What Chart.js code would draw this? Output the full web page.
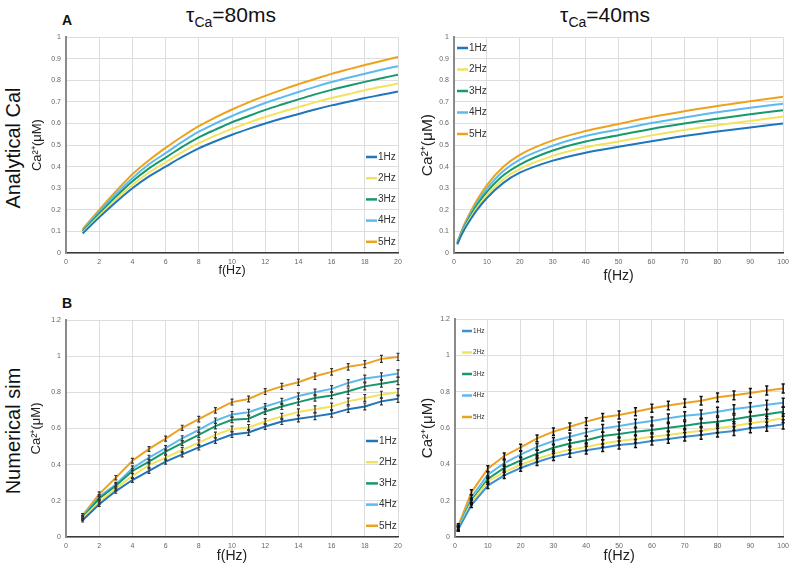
<!DOCTYPE html>
<html>
<head>
<meta charset="utf-8">
<script src="https://cdn.jsdelivr.net/npm/chart.js@4.4.1/dist/chart.umd.min.js"></script>
<style>
  body { margin: 0; width: 794px; height: 568px; background: #fff; position: relative; overflow: hidden;
         font-family: "Liberation Sans", Arial, sans-serif; color: #111; }
  .box { position: absolute; }
  .box canvas { display: block; }
  .lbl { position: absolute; white-space: nowrap; }
  .title { font-size: 21px; line-height: 21px; width: 200px; text-align: center; }
  .title sub { font-size: 14px; vertical-align: -5px; }
  .panel { font-size: 14px; line-height: 14px; font-weight: bold; }
  .row { font-size: 20px; line-height: 24px; width: 200px; height: 24px; text-align: center; transform: rotate(-90deg); }
</style>
</head>
<body>

<div class="lbl panel" style="left:62px;top:13px">A</div>
<div class="lbl panel" style="left:62px;top:296px">B</div>
<div class="lbl title" style="left:131px;top:4px">τ<sub>Ca</sub>=80ms</div>
<div class="lbl title" style="left:505px;top:4px">τ<sub>Ca</sub>=40ms</div>
<div class="lbl row" style="left:-87px;top:136px">Analytical Cal</div>
<div class="lbl row" style="left:-87px;top:419px">Numerical sim</div>

<div class="box" style="left:0;top:28px"><canvas id="ana80" width="410" height="262"></canvas></div>
<div class="box" style="left:400px;top:28px"><canvas id="ana40" width="394" height="262"></canvas></div>
<div class="box" style="left:0;top:300px"><canvas id="num80" width="410" height="268"></canvas></div>
<div class="box" style="left:400px;top:300px"><canvas id="num40" width="394" height="268"></canvas></div>

<script>
// ==============================
// DATA
// ==============================

const seriesLabels = ['1Hz', '2Hz', '3Hz', '4Hz', '5Hz'];
const colorsA = ['#1f76bd', '#f3e35c', '#17996c', '#5cbaec', '#eda21e'];
const colorsB = ['#3f8fd6', '#f3e35c', '#17996c', '#5cbaec', '#eda21e'];

// ticks
const xTicks20 = [0, 2, 4, 6, 8, 10, 12, 14, 16, 18, 20];
const xTicks100 = [0, 10, 20, 30, 40, 50, 60, 70, 80, 90, 100];
const yTicksAna = [0, 0.1, 0.2, 0.3, 0.4, 0.5, 0.6, 0.7, 0.8, 0.9, 1];
const yTicksNum = [0, 0.2, 0.4, 0.6, 0.8, 1, 1.2];

// analytical, tau = 80ms
const freqAna80 = [1, 2, 3, 4, 5, 6, 7, 8, 9, 10, 11, 12, 13, 14, 15, 16, 17, 18, 19, 20];
const ana80_1Hz = [0.09, 0.165, 0.235, 0.30, 0.355, 0.40, 0.445, 0.485, 0.518, 0.548, 0.575, 0.600, 0.623, 0.644, 0.665, 0.684, 0.701, 0.718, 0.733, 0.748];
const ana80_2Hz = [0.094, 0.173, 0.247, 0.315, 0.373, 0.42, 0.467, 0.509, 0.544, 0.575, 0.604, 0.63, 0.654, 0.676, 0.698, 0.718, 0.736, 0.754, 0.77, 0.785];
const ana80_3Hz = [0.099, 0.182, 0.26, 0.332, 0.392, 0.442, 0.492, 0.536, 0.572, 0.606, 0.635, 0.663, 0.688, 0.712, 0.735, 0.756, 0.775, 0.793, 0.81, 0.826];
const ana80_4Hz = [0.104, 0.191, 0.272, 0.347, 0.411, 0.463, 0.515, 0.562, 0.6, 0.635, 0.666, 0.695, 0.721, 0.746, 0.77, 0.792, 0.812, 0.831, 0.849, 0.866];
const ana80_5Hz = [0.11, 0.20, 0.285, 0.365, 0.43, 0.487, 0.54, 0.588, 0.628, 0.665, 0.698, 0.728, 0.756, 0.782, 0.806, 0.83, 0.851, 0.871, 0.89, 0.908];

// analytical, tau = 40ms
const freqAna40 = [1, 2, 3, 5, 7, 10, 15, 20, 30, 40, 50, 60, 70, 80, 90, 100];
const ana40_1Hz = [0.04, 0.075, 0.105, 0.155, 0.20, 0.255, 0.325, 0.372, 0.428, 0.465, 0.492, 0.518, 0.542, 0.563, 0.582, 0.60];
const ana40_2Hz = [0.042, 0.078, 0.11, 0.163, 0.21, 0.268, 0.342, 0.39, 0.45, 0.49, 0.517, 0.545, 0.57, 0.592, 0.612, 0.632];
const ana40_3Hz = [0.044, 0.082, 0.116, 0.172, 0.222, 0.283, 0.36, 0.41, 0.475, 0.517, 0.546, 0.575, 0.6, 0.622, 0.643, 0.662];
const ana40_4Hz = [0.047, 0.086, 0.122, 0.181, 0.233, 0.298, 0.38, 0.433, 0.497, 0.542, 0.572, 0.602, 0.628, 0.652, 0.673, 0.692];
const ana40_5Hz = [0.05, 0.09, 0.128, 0.19, 0.245, 0.315, 0.40, 0.455, 0.522, 0.565, 0.598, 0.63, 0.657, 0.681, 0.703, 0.724];

// numerical, tau = 80ms
const freqNum80 = [1, 2, 3, 4, 5, 6, 7, 8, 9, 10, 11, 12, 13, 14, 15, 16, 17, 18, 19, 20];
const num80_1Hz = [0.093, 0.181, 0.254, 0.315, 0.365, 0.417, 0.457, 0.496, 0.533, 0.567, 0.578, 0.611, 0.639, 0.654, 0.667, 0.681, 0.707, 0.722, 0.75, 0.765];
const num80_2Hz = [0.102, 0.194, 0.269, 0.337, 0.398, 0.439, 0.481, 0.522, 0.565, 0.597, 0.606, 0.639, 0.667, 0.691, 0.707, 0.722, 0.75, 0.769, 0.787, 0.80];
const num80_3Hz = [0.107, 0.213, 0.283, 0.365, 0.417, 0.472, 0.519, 0.565, 0.613, 0.648, 0.654, 0.694, 0.722, 0.746, 0.769, 0.783, 0.806, 0.833, 0.848, 0.863];
const num80_4Hz = [0.111, 0.222, 0.29, 0.38, 0.439, 0.491, 0.546, 0.593, 0.643, 0.678, 0.69, 0.722, 0.75, 0.78, 0.80, 0.819, 0.852, 0.876, 0.889, 0.904];
const num80_5Hz = [0.12, 0.237, 0.328, 0.422, 0.487, 0.544, 0.604, 0.652, 0.70, 0.746, 0.763, 0.804, 0.833, 0.856, 0.889, 0.913, 0.941, 0.956, 0.985, 0.996];
const errNum80 = [0.01, 0.012, 0.012, 0.013, 0.013, 0.014, 0.014, 0.015, 0.015, 0.016, 0.016, 0.016, 0.017, 0.017, 0.018, 0.018, 0.018, 0.019, 0.019, 0.02];

// numerical, tau = 40ms
const freqNum40 = [1, 5, 10, 15, 20, 25, 30, 35, 40, 45, 50, 55, 60, 65, 70, 75, 80, 85, 90, 95, 100];
const num40_1Hz = [0.043, 0.176, 0.283, 0.339, 0.38, 0.413, 0.441, 0.459, 0.478, 0.491, 0.506, 0.515, 0.528, 0.539, 0.552, 0.561, 0.574, 0.583, 0.598, 0.607, 0.62];
const num40_2Hz = [0.046, 0.191, 0.306, 0.357, 0.398, 0.431, 0.459, 0.481, 0.496, 0.515, 0.528, 0.539, 0.552, 0.561, 0.574, 0.585, 0.598, 0.611, 0.626, 0.639, 0.654];
const num40_3Hz = [0.048, 0.20, 0.32, 0.38, 0.422, 0.459, 0.491, 0.515, 0.533, 0.556, 0.567, 0.58, 0.589, 0.602, 0.613, 0.626, 0.635, 0.648, 0.663, 0.676, 0.69];
const num40_4Hz = [0.052, 0.219, 0.343, 0.407, 0.454, 0.496, 0.528, 0.552, 0.576, 0.598, 0.611, 0.626, 0.639, 0.654, 0.667, 0.676, 0.69, 0.704, 0.715, 0.728, 0.739];
const num40_5Hz = [0.061, 0.246, 0.376, 0.446, 0.493, 0.543, 0.58, 0.607, 0.635, 0.659, 0.672, 0.69, 0.709, 0.724, 0.737, 0.75, 0.769, 0.78, 0.793, 0.806, 0.817];
const errNum40 = [0.012, 0.014, 0.016, 0.017, 0.018, 0.019, 0.02, 0.02, 0.021, 0.021, 0.022, 0.022, 0.022, 0.023, 0.023, 0.023, 0.024, 0.024, 0.024, 0.025, 0.025];

// ==============================
// PLUGINS
// ==============================

Chart.defaults.font.family = '"Liberation Sans", Arial, sans-serif';

// legend drawn inside the plot area
const insideLegend = {
    id: 'insideLegend',
    afterDraw(chart, args, o) {
        const ctx = chart.ctx;
        ctx.save();
        ctx.font = o.size + 'px "Liberation Sans", Arial, sans-serif';
        ctx.textBaseline = 'middle';
        chart.data.datasets.forEach((ds, i) => {
            const y = o.y + i * o.dy;
            ctx.strokeStyle = ds.borderColor;
            ctx.lineWidth = 2.5;
            ctx.beginPath();
            ctx.moveTo(o.x, y);
            ctx.lineTo(o.x + o.len, y);
            ctx.stroke();
            ctx.fillStyle = '#333';
            ctx.fillText(ds.label, o.x + o.len + 1, y);
        });
        ctx.restore();
    }
};

// vertical error bars with caps
const errorBars = {
    id: 'errorBars',
    afterDatasetsDraw(chart, args, o) {
        if (!o.err) return;
        const { ctx, scales: { x, y } } = chart;
        ctx.save();
        ctx.strokeStyle = o.color;
        ctx.lineWidth = o.width;
        chart.data.datasets.forEach(ds => {
            ds.data.forEach((p, i) => {
                const e = o.err[i];
                const px = x.getPixelForValue(p.x);
                const top = y.getPixelForValue(p.y + e);
                const bot = y.getPixelForValue(p.y - e);
                ctx.beginPath();
                ctx.moveTo(px, top); ctx.lineTo(px, bot);
                ctx.moveTo(px - o.cap, top); ctx.lineTo(px + o.cap, top);
                ctx.moveTo(px - o.cap, bot); ctx.lineTo(px + o.cap, bot);
                ctx.stroke();
            });
        });
        ctx.restore();
    }
};

// ==============================
// CHART BUILDER
// ==============================

function pairs(xs, ys) {
    return xs.map((x, i) => ({ x: x, y: ys[i] }));
}

function makeChart(id, c) {
    const datasets = c.series.map((ys, i) => ({
        label: seriesLabels[i],
        data: pairs(c.freq, ys),
        borderColor: c.colors[i],
        backgroundColor: c.colors[i],
        borderWidth: 2,
        pointRadius: 0,
        fill: false,
        cubicInterpolationMode: c.smooth ? 'monotone' : 'default',
        tension: 0
    }));

    return new Chart(document.getElementById(id), {
        type: 'line',
        data: { datasets },
        plugins: [errorBars, insideLegend],
        options: {
            responsive: false,
            animation: false,
            devicePixelRatio: 1,
            layout: { padding: { left: 0, top: c.padTop, right: c.padRight, bottom: 0 } },
            plugins: {
                legend: { display: false },
                tooltip: { enabled: false },
                insideLegend: c.legend,
                errorBars: { err: c.err, color: c.errColor, width: c.errWidth, cap: c.cap }
            },
            scales: {
                x: {
                    type: 'linear',
                    min: 0,
                    max: c.xTicks[c.xTicks.length - 1],
                    afterBuildTicks: s => { s.ticks = c.xTicks.map(v => ({ value: v })); },
                    afterFit: s => { s.height = c.xAxisH; },
                    grid: { color: '#dddddd', drawTicks: false },
                    border: { color: '#3a3a3a', width: 1.5 },
                    ticks: { font: { size: 7 }, color: '#666', padding: 5, autoSkip: false, maxRotation: 0, callback: v => String(v) },
                    title: { display: true, text: 'f(Hz)', color: '#222', font: { size: c.xTitleSize }, padding: { top: 0, bottom: c.xTitlePad } }
                },
                y: {
                    min: 0,
                    max: c.yTicks[c.yTicks.length - 1],
                    afterBuildTicks: s => { s.ticks = c.yTicks.map(v => ({ value: v })); },
                    afterFit: s => { s.width = c.yAxisW; },
                    grid: { color: '#dddddd', drawTicks: false },
                    border: { color: '#8a8a8a', width: 2 },
                    ticks: { font: { size: 7 }, color: '#666', padding: 5, callback: v => String(v) },
                    title: { display: true, text: 'Ca\u00b2\u207a(\u03bcM)', color: '#222', font: { size: c.yTitleSize }, padding: { top: c.yTitlePad, bottom: 0 } }
                }
            }
        }
    });
}

// ==============================
// PANELS
// ==============================

makeChart('ana80', {
    freq: freqAna80, series: [ana80_1Hz, ana80_2Hz, ana80_3Hz, ana80_4Hz, ana80_5Hz],
    colors: colorsA, smooth: true,
    xTicks: xTicks20, yTicks: yTicksAna,
    padTop: 9, padRight: 12, yAxisW: 66, xAxisH: 37,
    xTitleSize: 12.5, xTitlePad: 12, yTitleSize: 13, yTitlePad: 30,
    legend: { x: 366, y: 129, dy: 21.2, len: 11, size: 10 }
});

makeChart('ana40', {
    freq: freqAna40, series: [ana40_1Hz, ana40_2Hz, ana40_3Hz, ana40_4Hz, ana40_5Hz],
    colors: colorsA, smooth: true,
    xTicks: xTicks100, yTicks: yTicksAna,
    padTop: 9, padRight: 6, yAxisW: 54, xAxisH: 37,
    xTitleSize: 14, xTitlePad: 5.6, yTitleSize: 15.5, yTitlePad: 18.7,
    legend: { x: 57, y: 20, dy: 21.5, len: 11, size: 10 }
});

makeChart('num80', {
    freq: freqNum80, series: [num80_1Hz, num80_2Hz, num80_3Hz, num80_4Hz, num80_5Hz],
    colors: colorsA, smooth: false,
    xTicks: xTicks20, yTicks: yTicksNum,
    padTop: 20, padRight: 12, yAxisW: 66, xAxisH: 31,
    xTitleSize: 14, xTitlePad: 3.6, yTitleSize: 13, yTitlePad: 29,
    err: errNum80, errColor: '#333', errWidth: 1.2, cap: 1.5,
    legend: { x: 366, y: 141, dy: 21.2, len: 12, size: 10 }
});

makeChart('num40', {
    freq: freqNum40, series: [num40_1Hz, num40_2Hz, num40_3Hz, num40_4Hz, num40_5Hz],
    colors: colorsB, smooth: false,
    xTicks: xTicks100, yTicks: yTicksNum,
    padTop: 19, padRight: 6, yAxisW: 55, xAxisH: 31,
    xTitleSize: 14.5, xTitlePad: 3.6, yTitleSize: 15, yTitlePad: 19,
    err: errNum40, errColor: '#111', errWidth: 1.5, cap: 1.6,
    legend: { x: 62, y: 31, dy: 21.5, len: 10, size: 6.5 }
});
</script>
</body>
</html>
